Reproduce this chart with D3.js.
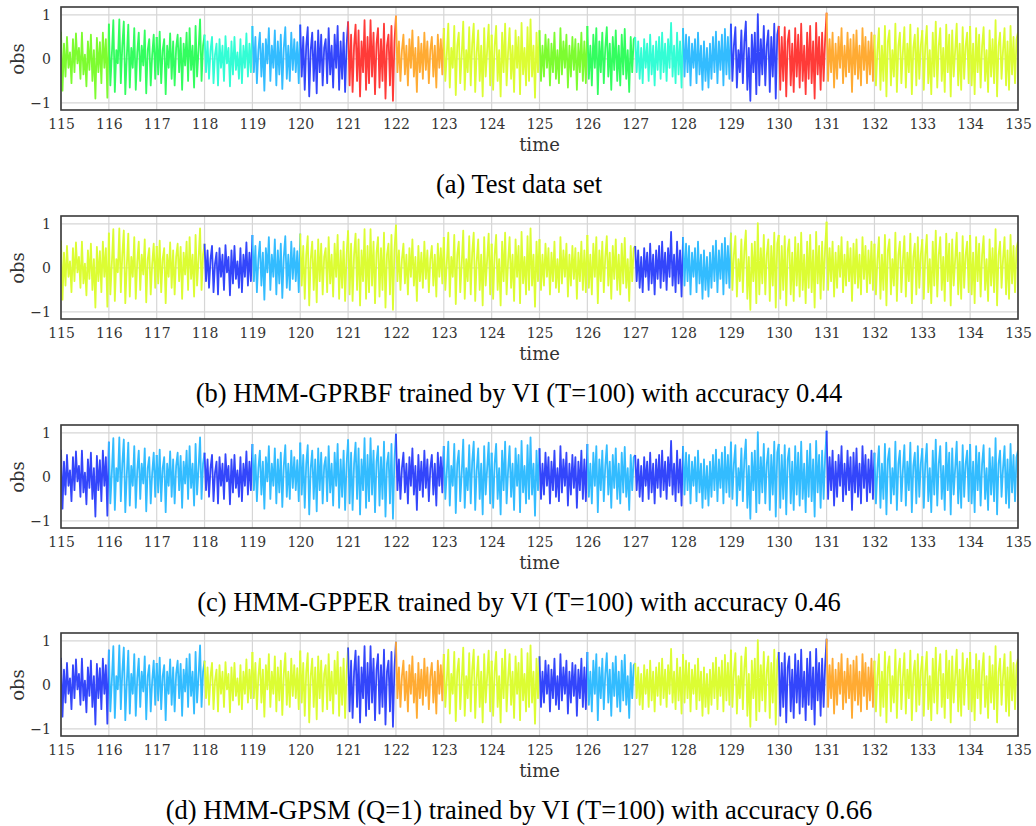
<!DOCTYPE html>
<html>
<head>
<meta charset="utf-8">
<script src="https://cdn.jsdelivr.net/npm/d3@7"></script>
<style>
  body { margin: 0; background: #fff; }
  svg { display: block; }
</style>
</head>
<body>
<svg width="1036" height="826"></svg>
<script>
var obs = [
  [0.62,-0.72,0.35,-0.4,0.5,-0.2,0.15,-0.55,0.45,-0.3,0.58,-0.1,0.25,-0.45,0.6,-0.35,0.1,-0.62,0.4,-0.25,0.55,-0.5,0.2,-0.9,0.48,-0.3,0.38,-0.55,0.6,-0.2,0.45,-0.88],
  [0.8,-0.6,0.1,0.88,-0.75,0.2,-0.1,0.9,-0.55,0.3,0.85,-0.8,0.05,0.78,-0.65,0.25,-0.2,0.7,-0.7,0.15,0.6,-0.5,0.3,-0.15,0.65,-0.78,0.2,0.45,-0.6,0.1,0.55,-0.45],
  [0.5,-0.35,0.62,-0.55,0.2,0.45,-0.8,0.3,-0.2,0.58,-0.45,0.4,-0.6,0.25,0.55,-0.3,0.48,-0.7,0.35,-0.15,0.6,-0.5,0.7,-0.25,0.3,-0.65,0.75,-0.4,0.2,0.9,-0.5,0.3],
  [0.55,-0.3,0.4,-0.45,0.2,0.5,-0.55,0.1,0.35,-0.6,0.45,-0.2,0.3,-0.5,0.52,-0.1,0.25,-0.62,0.4,-0.35,0.5,-0.25,0.15,-0.45,0.45,-0.55,0.3,-0.2,0.58,-0.4,0.35,-0.3],
  [0.75,-0.3,0.5,-0.55,0.2,0.6,-0.4,0.35,-0.72,0.45,-0.1,0.7,-0.5,0.3,-0.2,0.65,-0.6,0.4,-0.35,0.55,-0.68,0.25,0.72,-0.45,0.3,-0.5,0.6,-0.25,0.45,-0.3,0.38,-0.55],
  [0.78,-0.4,0.5,-0.7,0.3,0.72,-0.85,0.2,0.6,-0.5,0.4,-0.78,0.65,-0.3,0.55,-0.6,0.25,0.45,-0.55,0.7,-0.35,0.3,-0.65,0.55,-0.2,0.75,-0.7,0.4,-0.45,0.6,-0.75,0.3],
  [0.85,-0.6,0.55,-0.75,0.3,0.78,-0.5,0.65,-0.85,0.4,-0.3,0.88,-0.7,0.5,-0.55,0.88,-0.4,0.6,-0.8,0.35,0.7,-0.65,0.45,-0.5,0.8,-0.9,0.3,0.55,-0.6,0.75,-0.95,0.4],
  [0.98,-0.3,0.4,-0.5,0.2,0.55,-0.35,0.3,-0.6,0.45,-0.2,0.65,-0.4,0.25,-0.75,0.5,-0.3,0.35,-0.45,0.6,-0.25,0.4,-0.55,0.2,0.5,-0.4,0.3,-0.65,0.55,-0.2,0.45,-0.35],
  [0.7,-0.5,0.1,0.8,-0.65,0.25,-0.2,0.75,-0.82,0.3,0.6,-0.55,0.1,0.85,-0.7,0.2,-0.3,0.72,-0.6,0.35,0.8,-0.75,0.15,0.65,-0.5,0.3,-0.85,0.7,-0.4,0.2,0.78,-0.6],
  [0.55,-0.7,0.3,0.75,-0.5,0.2,-0.85,0.6,-0.3,0.8,-0.6,0.15,0.7,-0.45,0.3,-0.75,0.65,-0.2,0.5,-0.8,0.82,-0.35,0.25,-0.6,0.72,-0.5,0.9,-0.4,0.3,-0.88,0.6,-0.3],
  [0.65,-0.5,0.3,-0.4,0.55,-0.2,0.45,-0.6,0.35,-0.3,0.6,-0.45,0.2,-0.55,0.7,-0.35,0.4,-0.2,0.55,-0.65,0.3,-0.4,0.5,-0.25,0.45,-0.7,0.35,-0.3,0.6,-0.5,0.4,-0.55],
  [0.75,-0.45,0.3,-0.6,0.55,-0.2,0.7,-0.8,0.4,-0.3,0.6,-0.55,0.25,0.72,-0.4,0.35,-0.7,0.5,-0.25,0.65,-0.5,0.3,-0.6,0.55,-0.35,0.68,-0.45,0.2,-0.75,0.5,-0.3,0.45],
  [0.5,-0.3,0.4,-0.45,0.25,-0.55,0.45,-0.2,0.35,-0.5,0.55,-0.35,0.3,-0.6,0.4,-0.25,0.5,-0.45,0.6,-0.3,0.35,-0.5,0.45,-0.2,0.82,-0.4,0.3,-0.55,0.6,-0.35,0.4,-0.65],
  [0.7,-0.4,0.55,-0.3,0.5,-0.6,0.35,-0.2,0.45,-0.55,0.6,-0.35,0.3,-0.7,0.4,-0.5,0.25,-0.65,0.35,-0.45,0.5,-0.3,0.62,-0.55,0.4,-0.25,0.55,-0.6,0.68,-0.35,0.5,-0.45],
  [0.8,-0.5,0.3,0.72,-0.65,0.2,-0.3,0.65,-0.55,0.4,0.85,-0.7,0.25,-0.95,0.55,-0.3,0.6,-0.8,1.02,-0.6,0.45,-0.35,0.75,-0.6,0.3,0.65,-0.75,0.5,-0.4,0.8,-0.9,0.55],
  [0.75,-0.7,0.5,-0.5,0.72,-0.85,0.4,0.65,-0.6,0.35,-0.75,0.7,-0.4,0.55,-0.65,0.8,-0.5,0.3,-0.8,0.6,-0.45,0.75,-0.55,0.4,-0.9,0.82,-0.35,0.5,-0.7,0.6,-0.5,0.45],
  [1.05,-0.5,0.45,-0.3,0.6,-0.65,0.35,-0.45,0.5,-0.2,0.7,-0.55,0.3,-0.4,0.6,-0.3,0.45,-0.75,0.55,-0.35,0.65,-0.45,0.3,-0.6,0.7,-0.25,0.5,-0.55,0.4,-0.35,0.6,-0.5],
  [0.55,-0.6,0.2,0.7,-0.7,0.3,-0.5,0.75,-0.85,0.4,0.65,-0.6,0.2,-0.4,0.8,-0.75,0.3,0.6,-0.55,0.15,0.72,-0.65,0.35,-0.3,0.78,-0.8,0.25,0.55,-0.6,0.7,-0.45,0.3],
  [0.65,-0.7,0.3,0.75,-0.55,0.2,-0.8,0.6,-0.4,0.85,-0.65,0.3,0.7,-0.5,0.25,-0.75,0.78,-0.3,0.55,-0.85,0.65,-0.4,0.2,0.8,-0.6,0.35,-0.7,0.72,-0.45,0.3,0.6,-0.55],
  [0.75,-0.6,0.35,-0.8,0.7,-0.3,0.55,-0.65,0.3,0.72,-0.5,0.2,-0.75,0.65,-0.4,0.45,-0.55,0.88,-0.85,0.3,0.6,-0.45,0.2,0.7,-0.6,0.4,-0.7,0.75,-0.35,0.5,-0.55,0.45]
];
var lastObs = 0.6;

var xTicks = [115,116,117,118,119,120,121,122,123,124,125,126,127,128,129,130,131,132,133,134,135];
var yTicks = [-1, 0, 1];

// state colour per time unit (115..134)
var statesA = ['lime','green','green','turq','lblue','blue','red','orange','yellow','yellow','lime','green','turq','lblue','blue','red','orange','yellow','yellow','yellow'];
var statesB = ['yellow','yellow','yellow','blue','lblue','yellow','yellow','yellow','yellow','yellow','yellow','yellow','blue','lblue','yellow','yellow','yellow','yellow','yellow','yellow'];
var statesC = ['blue','lblue','lblue','blue','lblue','lblue','lblue','blue','lblue','lblue','blue','lblue','blue','lblue','lblue','lblue','blue','lblue','lblue','lblue'];
var statesD = ['blue','lblue','lblue','yellow','yellow','yellow','blue','orange','yellow','yellow','blue','lblue','yellow','yellow','yellow','blue','orange','yellow','yellow','yellow'];

var captions = [
  '(a) Test data set',
  '(b) HMM-GPRBF trained by VI (T=100) with accuracy 0.44',
  '(c) HMM-GPPER trained by VI (T=100) with accuracy 0.46',
  '(d) HMM-GPSM (Q=1) trained by VI (T=100) with accuracy 0.66'
];

var palette = {
  lime: '#7dfc30', green: '#33fd5f', turq: '#33fdd5', lblue: '#33bcff',
  blue: '#3346fb', red: '#ff3b38', orange: '#ffab33', yellow: '#dcfd33'
};

var perUnit = 32;
var left = 61, right = 1018, plotH = 103;
var tops = [7, 216, 425, 633];

var svg = d3.select('svg');

var x = d3.scaleLinear().domain([115, 135]).range([left, right]);

var points = [];
obs.forEach((row, u) => {
  row.forEach((v, j) => points.push({t: 115 + u + j / perUnit, v: v}));
});
points.push({t: 135, v: lastObs});

[statesA, statesB, statesC, statesD].forEach((states, p) => {
  var top = tops[p];
  var y = d3.scaleLinear().domain([-1.16, 1.18]).range([top + plotH, top]);
  var g = svg.append('g');

  g.append('clipPath').attr('id', 'clip' + p)
    .append('rect').attr('x', left).attr('y', top).attr('width', right - left).attr('height', plotH);

  // grid
  g.selectAll('.vg').data(xTicks).enter().append('line')
    .attr('x1', d => x(d)).attr('x2', d => x(d))
    .attr('y1', top).attr('y2', top + plotH)
    .attr('stroke', '#d6d6d6').attr('stroke-width', 1.2);
  g.selectAll('.hg').data(yTicks).enter().append('line')
    .attr('x1', left).attr('x2', right)
    .attr('y1', d => y(d)).attr('y2', d => y(d))
    .attr('stroke', '#d6d6d6').attr('stroke-width', 1.2);

  var line = d3.line()
    .x(d => x(d.t))
    .y(d => y(d.v));

  var lines = g.append('g').attr('clip-path', 'url(#clip' + p + ')');
  states.forEach((s, u) => {
    var seg = points.slice(u * perUnit, (u + 1) * perUnit + 1);
    lines.append('path')
      .attr('d', line(seg))
      .attr('fill', 'none')
      .attr('stroke', palette[s])
      .attr('stroke-width', 1.8)
      .attr('stroke-linejoin', 'round');
  });

  // frame
  g.append('rect')
    .attr('x', left).attr('y', top).attr('width', right - left).attr('height', plotH)
    .attr('fill', 'none').attr('stroke', '#3a3a3a').attr('stroke-width', 1.6);

  // axes
  var xAxis = d3.axisBottom(x).tickValues(xTicks).tickSize(0).tickPadding(9).tickFormat(d3.format('d'));
  var gx = g.append('g').attr('transform', `translate(0,${top + plotH})`).call(xAxis);
  gx.select('.domain').remove();
  gx.selectAll('text').attr('font-family', 'DejaVu Serif').attr('font-size', 14).attr('fill', '#333');

  var yAxis = d3.axisLeft(y).tickValues(yTicks).tickSize(0).tickPadding(10)
    .tickFormat(d => d < 0 ? '\u2212' + Math.abs(d) : String(d));
  var gy = g.append('g').attr('transform', `translate(${left},0)`).call(yAxis);
  gy.select('.domain').remove();
  gy.selectAll('text').attr('font-family', 'DejaVu Serif').attr('font-size', 14).attr('fill', '#333');

  g.append('text')
    .attr('x', (left + right) / 2).attr('y', top + plotH + 41)
    .attr('text-anchor', 'middle')
    .attr('font-family', 'DejaVu Serif').attr('font-size', 18).attr('fill', '#333')
    .text('time');

  g.append('text')
    .attr('transform', `translate(24,${y(0)}) rotate(-90)`)
    .attr('text-anchor', 'middle')
    .attr('font-family', 'DejaVu Serif').attr('font-size', 18).attr('fill', '#333')
    .text('obs');

  g.append('text')
    .attr('x', 519).attr('y', top + plotH + 83)
    .attr('text-anchor', 'middle')
    .attr('font-family', 'Liberation Serif').attr('font-size', 26.5).attr('fill', '#000')
    .text(captions[p]);
});
</script>
</body>
</html>
